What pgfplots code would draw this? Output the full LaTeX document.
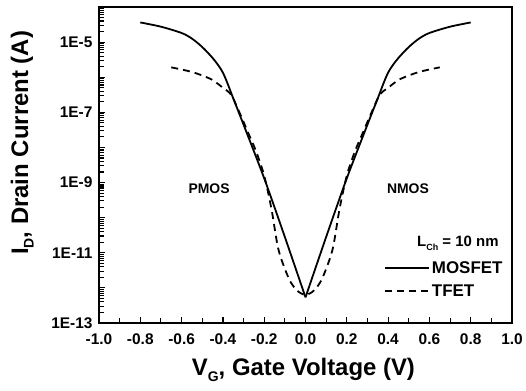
\documentclass[border=0pt]{standalone}
\usepackage{fontspec}
\setmainfont{Liberation Sans}
\usepackage{pgfplots}
\pgfplotsset{compat=1.18}
\pgfplotstableread{
x y
-0.80 3.63e-5
-0.70 2.75e-5
-0.60 1.82e-5
-0.55 1.26e-5
-0.50 7.24e-6
-0.45 3.55e-6
-0.42 2.09e-6
-0.40 1.35e-6
-0.38 7.24e-7
-0.35 2.51e-7
-0.30 4.47e-8
-0.20 1.32e-9
-0.10 2.82e-11
0.00 5.37e-13
}\mosleft
\pgfplotstableread{
x y
0.00 5.37e-13
0.10 2.82e-11
0.20 1.32e-9
0.30 4.47e-8
0.35 2.51e-7
0.38 7.24e-7
0.40 1.35e-6
0.42 2.09e-6
0.45 3.55e-6
0.50 7.24e-6
0.55 1.26e-5
0.60 1.82e-5
0.70 2.75e-5
0.80 3.63e-5
}\mosright
\pgfplotstableread{
x y
-0.65 1.91e-6
-0.60 1.66e-6
-0.55 1.41e-6
-0.50 1.12e-6
-0.45 8.32e-7
-0.40 5.01e-7
-0.36 3.16e-7
-0.32 1.00e-7
-0.28 2.82e-8
-0.24 7.94e-9
-0.20 1.58e-9
-0.165 1.78e-10
-0.135 1.58e-11
-0.11 5.01e-12
-0.075 1.58e-12
-0.04 8.32e-13
0.00 6.31e-13
0.04 8.32e-13
0.075 1.58e-12
0.11 5.01e-12
0.135 1.58e-11
0.165 1.78e-10
0.20 1.58e-9
0.24 7.94e-9
0.28 2.82e-8
0.32 1.00e-7
0.36 3.16e-7
0.40 5.01e-7
0.45 8.32e-7
0.50 1.12e-6
0.55 1.41e-6
0.60 1.66e-6
0.65 1.91e-6
}\tfet
\begin{document}
\begin{tikzpicture}[font=\bfseries]
\begin{axis}[
  at={(0,0)}, anchor=south west,
  scale only axis, width=413bp, height=316bp,
  xmin=-1, xmax=1, ymode=log, ymin=1e-13, ymax=1e-4,
  xtick={-1,-0.8,-0.6,-0.4,-0.2,0,0.2,0.4,0.6,0.8,1},
  xticklabels={-1.0,-0.8,-0.6,-0.4,-0.2,0.0,0.2,0.4,0.6,0.8,1.0},
  minor x tick num=1,
  ytick={1e-13,1e-12,1e-11,1e-10,1e-9,1e-8,1e-7,1e-6,1e-5,1e-4},
  yticklabels={1E-13,,1E-11,,1E-9,,1E-7,,1E-5,},
  minor ytick={2e-13,3e-13,4e-13,5e-13,6e-13,7e-13,8e-13,9e-13,
    2e-12,3e-12,4e-12,5e-12,6e-12,7e-12,8e-12,9e-12,
    2e-11,3e-11,4e-11,5e-11,6e-11,7e-11,8e-11,9e-11,
    2e-10,3e-10,4e-10,5e-10,6e-10,7e-10,8e-10,9e-10,
    2e-9,3e-9,4e-9,5e-9,6e-9,7e-9,8e-9,9e-9,
    2e-8,3e-8,4e-8,5e-8,6e-8,7e-8,8e-8,9e-8,
    2e-7,3e-7,4e-7,5e-7,6e-7,7e-7,8e-7,9e-7,
    2e-6,3e-6,4e-6,5e-6,6e-6,7e-6,8e-6,9e-6,
    2e-5,3e-5,4e-5,5e-5,6e-5,7e-5,8e-5,9e-5},
  tick pos=left, tick align=inside,
  major tick length=6bp, minor tick length=5bp,
  axis line style={line width=1.5bp},
  tick style={line width=1.2bp, black},
  minor tick style={line width=1.1bp, black},
  tick label style={font=\fontsize{15.5}{18}\selectfont\bfseries},
  xticklabel style={yshift=-7bp},
  yticklabel style={xshift=-3bp},
  /pgf/number format/assume math mode=true,
  xlabel={V\raisebox{-0.45ex}{\fontsize{14}{14}\selectfont G}, Gate Voltage (V)},
  ylabel={I\raisebox{-0.45ex}{\fontsize{14}{14}\selectfont D}, Drain Current (A)},
  label style={font=\fontsize{24}{29}\selectfont\bfseries},
  xlabel style={at={(axis description cs:0.495,-0.149)}, anchor=center},
  ylabel style={at={(axis description cs:-0.186,0.57)}, anchor=center},
  legend style={draw=none, fill=none, at={(rel axis cs:0.69,0.2025)}, anchor=north west,
    font=\fontsize{17}{20}\selectfont\bfseries, inner sep=0pt, row sep=6bp},
  legend image code/.code={\draw[#1] (0bp,0bp) -- (44bp,0bp);},
  legend cell align=left,
]
\addplot[black, line width=1.8bp, smooth] table[x=x,y=y] {\mosleft};
\addlegendentry{MOSFET}
\addplot[black, line width=1.8bp, dash pattern=on 7bp off 5bp, smooth] table[x=x,y=y] {\tfet};
\addlegendentry{TFET}
\addplot[black, line width=1.8bp, smooth, forget plot] table[x=x,y=y] {\mosright};
\node[font=\fontsize{14}{16}\selectfont\bfseries] at (axis cs:-0.467,6.8e-10) {PMOS};
\node[font=\fontsize{14}{16}\selectfont\bfseries] at (axis cs:0.496,6.8e-10) {NMOS};
\node[font=\fontsize{15}{17}\selectfont\bfseries] at (rel axis cs:0.869,0.253) {L\raisebox{-0.5ex}{\fontsize{9}{9}\selectfont Ch} = 10 nm};
\end{axis}
\pgfresetboundingbox
\path[use as bounding box] (-99bp,-68bp) rectangle (427bp,323bp);
\end{tikzpicture}
\end{document}
